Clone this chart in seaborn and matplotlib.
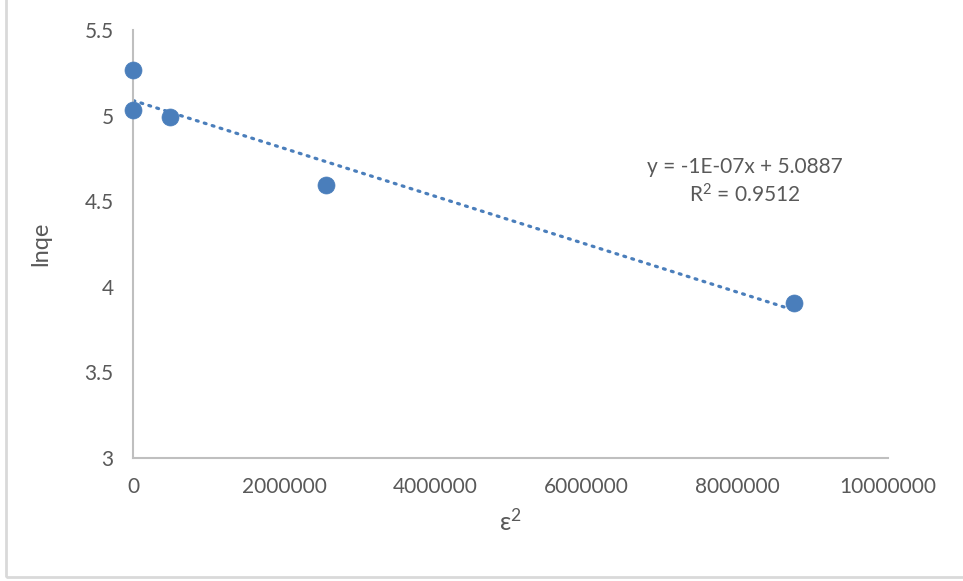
import numpy as np
import pandas as pd
import matplotlib
matplotlib.use("Agg")
import matplotlib.pyplot as plt
import seaborn as sns
from matplotlib.patches import Rectangle

# data
eps2 = [0, 0, 490000, 2556000, 8755000]
lnqe = [5.266, 5.033, 4.992, 4.595, 3.905]
x_ticks = [0, 2000000, 4000000, 6000000, 8000000, 10000000]
y_ticks = [3, 3.5, 4, 4.5, 5, 5.5]
y_tick_labels = ["3", "3.5", "4", "4.5", "5", "5.5"]
equation_text = "y = -1E-07x + 5.0887\nR$^{2}$ = 0.9512"
x_label = "ε$^{2}$"
y_label = "lnqe"

sns.set_theme(style="white")
plt.rcParams["font.family"] = ["Lato", "DejaVu Sans"]
plt.rcParams["mathtext.fontset"] = "custom"
plt.rcParams["mathtext.rm"] = "Lato"
plt.rcParams["mathtext.it"] = "Lato"
plt.rcParams["mathtext.default"] = "regular"

blue = "#4A7EBB"
gray_text = "#595959"
axis_gray = "#BFBFBF"

df = pd.DataFrame({"eps2": eps2, "lnqe": lnqe})

fig = plt.figure(figsize=(9.63, 5.81), dpi=100)
fig.patch.set_facecolor("white")
ax = fig.add_axes([0.1381, 0.2117, 0.784, 0.7367])

# trendline (linear least-squares fit of the data)
slope, intercept = np.polyfit(df["eps2"], df["lnqe"], 1)
xt = np.array([df["eps2"].min(), df["eps2"].max()])
ax.plot(xt, slope * xt + intercept, color=blue, lw=2.3,
        linestyle=(0, (0.6, 2.0)), dash_capstyle="round", zorder=2)

sns.scatterplot(data=df, x="eps2", y="lnqe", ax=ax, color=blue, s=150,
                edgecolor=blue, linewidth=0.5, zorder=3, clip_on=False)

ax.set_xlim(0, 10000000)
ax.set_ylim(3, 5.5)
ax.set_xticks(x_ticks)
ax.set_xticklabels([str(v) for v in x_ticks])
ax.set_yticks(y_ticks)
ax.set_yticklabels(y_tick_labels)
ax.tick_params(axis="both", length=0, labelsize=15, colors=gray_text)
ax.tick_params(axis="x", pad=14)
ax.tick_params(axis="y", pad=14)

for side in ["top", "right"]:
    ax.spines[side].set_visible(False)
for side in ["left", "bottom"]:
    ax.spines[side].set_color(axis_gray)
    ax.spines[side].set_linewidth(1.5)

ax.set_xlabel(x_label, fontsize=18, color=gray_text, labelpad=8)
ax.set_ylabel(y_label, fontsize=17, color=gray_text, labelpad=24)

ax.text(8100000, 4.615, equation_text, ha="center", va="center",
        fontsize=15, color=gray_text, linespacing=1.35)

# chart-area border
fig.patches.append(Rectangle((6 / 963, 4 / 581), 1.0, 1 - 4 / 581 + 0.01,
                             transform=fig.transFigure, fill=False,
                             edgecolor="#D9D9D9", lw=2, zorder=0))

fig.savefig("out.png", dpi=100, facecolor="white")
